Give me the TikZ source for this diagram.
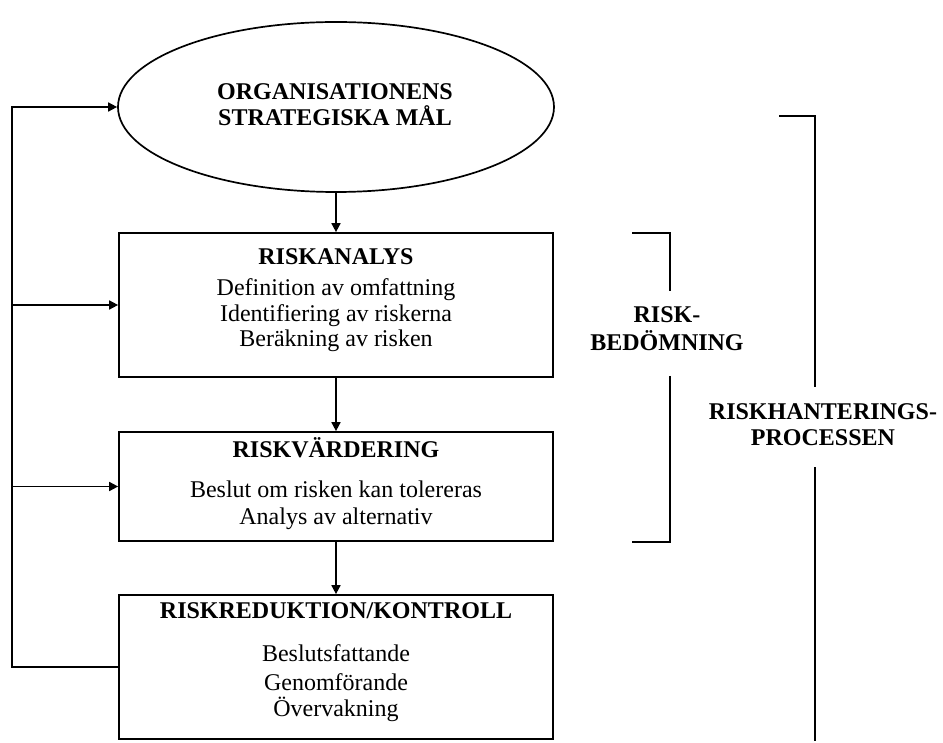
\documentclass[tikz,border=0pt]{standalone}
\usepackage{fontspec}
\setmainfont{Liberation Serif}
\usetikzlibrary{arrows.meta,shapes.geometric}
\begin{document}
\begin{tikzpicture}[x=1pt,y=-1pt,line width=1.7pt,
  box/.style={draw,rectangle,minimum width=434pt,inner sep=0pt},
  arr/.style={-{Triangle[length=9pt,width=9pt]}},
  hd/.style={font=\fontsize{24}{26}\selectfont\bfseries,anchor=base,inner sep=0pt},
  bd/.style={font=\fontsize{24}{26}\selectfont,anchor=base,inner sep=0pt}]
\useasboundingbox (0,0) rectangle (943,743);
% shapes
\node[draw,ellipse,minimum width=436pt,minimum height=170pt,inner sep=0pt] (goal) at (336,107) {};
\node[box,minimum height=144pt] (ana) at (336,305) {};
\node[box,minimum height=109pt] (val) at (336,486.5) {};
\node[box,minimum height=144pt] (red) at (336,667) {};
% texts
\node[hd] (g1) at (335,100) {ORGANISATIONENS};
\node[hd] (g2) at (335,126) {STRATEGISKA MÅL};
\node[hd] (a0) at (336,265) {RISKANALYS};
\node[bd] (a1) at (336,296) {Definition av omfattning};
\node[bd] (a2) at (336,322) {Identifiering av riskerna};
\node[bd] (a3) at (336,347) {Beräkning av risken};
\node[hd] (v0) at (336,457) {RISKVÄRDERING};
\node[bd] (v1) at (336,497) {Beslut om risken kan tolereras};
\node[bd] (v2) at (336,524) {Analys av alternativ};
\node[hd] (r0) at (336,618) {RISKREDUKTION/KONTROLL};
\node[bd] (r1) at (336,661) {Beslutsfattande};
\node[bd] (r2) at (336,690) {Genomförande};
\node[bd] (r3) at (336,716) {Övervakning};
\node[hd] (b1) at (667,323) {RISK-};
\node[hd] (b2) at (667,351) {BEDÖMNING};
\node[hd] (p1) at (823,420) {RISKHANTERINGS-};
\node[hd] (p2) at (823,446) {PROCESSEN};
% connectors
\coordinate (lt) at (12,107);
\draw[arr] (goal.south) -- (ana.north);
\draw[arr] (ana.south) -- (val.north);
\draw[arr] (val.south) -- (red.north);
\draw[arr] (red.west) -- (red.west -| lt) -- (lt) -- (goal.west);
\draw[arr] (ana.west -| lt) -- (ana.west);
\draw[arr] (val.west -| lt) -- (val.west);
% brackets
\draw (632,233) -- (670,233) -- (670,291);
\draw (670,376) -- (670,542) -- (632,542);
\draw (779,116) -- (815,116) -- (815,387);
\draw (815,467) -- (815,741);
\end{tikzpicture}
\end{document}
